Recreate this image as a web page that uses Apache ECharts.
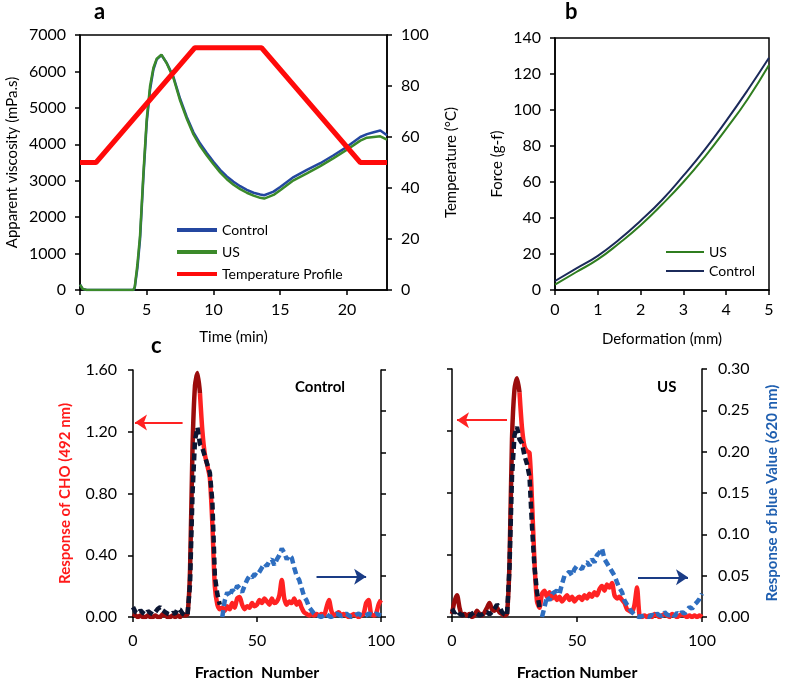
<!DOCTYPE html>
<html><head><meta charset="utf-8">
<script src="https://cdn.jsdelivr.net/npm/echarts@6/dist/echarts.min.js"></script>
<style>html,body{margin:0;padding:0;background:#fff}#c{width:787px;height:684px}</style>
</head><body><div id="c"></div>
<script>
// ---------- Panel a: RVA pasting profile ----------
const timeA = [0,0.2,0.5,1,2,3,4,4.1,4.3,4.5,4.75,5,5.25,5.5,5.75,6.1,6.5,7,7.5,8,8.5,9,9.5,10,10.5,11,11.5,12,12.5,13,13.5,13.8,14.5,15,16,17,18,19,20,21,21.5,22,22.5,23];
const viscControl = [150,30,0,0,0,0,0,60,600,1400,3100,4600,5500,6050,6330,6450,6230,5850,5250,4750,4330,4020,3760,3520,3300,3120,2970,2850,2750,2670,2620,2600,2700,2830,3100,3300,3480,3700,3930,4200,4280,4330,4380,4250];
const viscUS = [150,30,0,0,0,0,0,80,700,1500,3200,4700,5600,6100,6350,6460,6220,5820,5200,4700,4270,3950,3690,3450,3230,3040,2890,2770,2670,2590,2530,2510,2610,2740,3010,3200,3400,3620,3850,4100,4180,4200,4220,4130];
const tempTime = [0,1.2,8.6,13.6,21.0,23];
const tempValues = [50,50,95,95,50,50];

// ---------- Panel b: force vs deformation ----------
const deformation = [0,0.5,1,1.5,2,2.5,3,3.5,4,4.5,5];
const forceUS = [3,10,17,26,36,47.5,60,74,89.5,106,125];
const forceControl = [5,12,19,28,38.5,50,63.5,78,94,111,129];

// ---------- Panel c: fraction profiles (fractions 0..100) ----------
const choControl = [0.02,0.01,0,0.01,0,0,0.01,0,0,0.01,0,0,0.02,0.01,0,0,0.01,0,0.01,0,0.02,0.01,0.02,
  0.3,1.1,1.5,1.58,1.45,1.2,1.05,0.98,0.9,0.6,0.2,0.08,0.05,
  0.06,0.04,0.07,0.05,0.09,0.06,0.12,0.13,0.08,0.05,0.07,0.06,0.09,0.07,0.08,0.11,0.09,0.12,0.1,0.08,0.12,0.09,0.1,0.14,0.24,0.12,0.08,0.1,0.09,0.12,0.08,0.1,0.06,0.03,0.02,
  0.01,0.02,0.01,0.02,0.01,0.02,0.01,0.06,0.11,0.04,0.01,0.02,0.03,0.01,0.02,0.01,0,0.01,0.02,0.01,0,0.01,0.02,0.09,0.11,0.02,0.01,0.02,0.08,0.11];
const blueControl = [0.012,0.006,0.004,0.008,0.005,0.003,0.007,0.005,0.003,0.006,0.01,0.012,0.008,0.006,0.004,0.003,0.005,0.004,0.01,0.009,0.004,0.002,0.003,
  0.04,0.15,0.215,0.23,0.21,0.205,0.195,0.185,0.175,0.14,0.05,0.028,0.015,
  0,0.02,0.03,0.025,0.033,0.03,0.038,0.035,0.03,0.038,0.045,0.05,0.048,0.052,0.05,0.055,0.06,0.065,0.062,0.068,0.07,0.063,0.07,0.075,0.083,0.078,0.07,0.075,0.072,0.06,0.05,0.045,0.035,0.025,0.02,
  0.012,0.008,0.004,0.002,0.001,0,0.002,0.004,0.001,0,0.002,0.004,0.003,0.001,0.002,0.004,0.002,0,0.001,0.003,0.004,0.002,0.001,0.002,0.004,0.003,0.002,0.004,0.003,0.002];
const choUS = [0.02,0.1,0.14,0.06,0.01,0.02,0.01,0.02,0,0.01,0.04,0.02,0.01,0.03,0.06,0.09,0.05,0.04,0.06,0.03,0.02,0.01,0.02,
  0.35,1.15,1.47,1.54,1.45,1.22,1.1,1.07,1.06,0.75,0.35,0.1,0.06,
  0.15,0.17,0.13,0.16,0.12,0.14,0.11,0.13,0.1,0.12,0.14,0.11,0.13,0.1,0.12,0.13,0.11,0.14,0.12,0.15,0.13,0.16,0.14,0.18,0.2,0.17,0.21,0.19,0.22,0.14,0.12,0.13,0.11,0.09,0.05,
  0.04,0.03,0.08,0.19,0.01,
  0,0.01,0,0.01,0,0.02,0.01,0,0.01,0.02,0.01,0,0.02,0.01,0,0.01,0.02,0.01,0,0.01,0,0.01,0,0.01,0];
const blueUS = [0.01,0.005,0.008,0.004,0.002,0.003,0.002,0.001,0.004,0.006,0.004,0.002,0.003,0.005,0.006,0.003,0.006,0.01,0.015,0.012,0.006,0.003,0.002,
  0.06,0.17,0.22,0.23,0.215,0.21,0.195,0.185,0.17,0.11,0.06,0.03,0.012,
  0,0.012,0.025,0.02,0.028,0.03,0.032,0.028,0.04,0.05,0.052,0.055,0.05,0.058,0.062,0.06,0.058,0.065,0.066,0.062,0.07,0.066,0.075,0.078,0.083,0.07,0.065,0.06,0.055,0.05,0.042,0.035,0.03,0.02,0.015,
  0.01,0.006,0.003,0.001,0,0.001,0.002,0.001,0,0.003,0.001,0.004,0.002,0.001,0.006,0.003,0.002,0.004,0.001,0.005,0.003,0.006,0.004,0.008,0.012,0.01,0.015,0.018,0.022,0.028];
// colour change points (fraction number) used by the original plot
const choDarkUntil = 27;
const blueDarkUntil = 35;
// arrow annotations [from, to] in data units
const arrowCHO1 = [[20,1.26],[0.8,1.26]];
const arrowBlue1 = [[74,0.049],[94,0.049]];
const arrowCHO2 = [[22,1.27],[2,1.27]];
const arrowBlue2 = [[74.4,0.048],[94.4,0.048]];

const FONT = 'Lato';
const zip = (xs, ys) => xs.map((x,i)=>[x, ys[i]]);
const idx = arr => arr.map((v,i)=>[i, v]);
const part = (arr, from, to) => idx(arr).slice(from, to + 1);

function axisBase(extra){
  return Object.assign({
    axisLine:{show:true, onZero:false, lineStyle:{color:'#000', width:1.5}},
    axisTick:{show:true, inside:false, length:5, lineStyle:{color:'#000', width:1.5}},
    axisLabel:{color:'#000', fontSize:16, fontFamily:FONT, margin:14},
    splitLine:{show:false},
    nameTextStyle:{color:'#000', fontSize:15, fontFamily:FONT},
  }, extra);
}
const arrowLine = (pts, color) => ({
  silent:true, symbol:['none','arrow'], symbolSize:12, label:{show:false},
  lineStyle:{color:color, width:2, type:'solid'},
  itemStyle:{color:color},
  data:[[{coord:pts[0]},{coord:pts[1]}]]
});

const RED = '#ff2222', DARKRED = '#9b0c0c', NAVY = '#0c1632', BLUE = '#2e6ec0';
function cSeries(xi, yl, yr, cho, blue, arrC, arrB){
  return [
    {type:'line', name:'cho-a'+xi, xAxisIndex:xi, yAxisIndex:yl, data:part(cho, choDarkUntil, 100), symbol:'none', smooth:0.25, color:RED, lineStyle:{color:RED, width:4.5}, markLine:arrowLine(arrC, RED), z:2},
    {type:'line', name:'cho-b'+xi, xAxisIndex:xi, yAxisIndex:yl, data:part(cho, 0, choDarkUntil), symbol:'none', smooth:0.25, color:DARKRED, lineStyle:{color:DARKRED, width:4.5}, z:2},
    {type:'line', name:'blue-a'+xi, xAxisIndex:xi, yAxisIndex:yr, data:part(blue, 0, blueDarkUntil), symbol:'none', color:NAVY, lineStyle:{color:NAVY, width:4.5, type:[7,4]}, z:3},
    {type:'line', name:'blue-b'+xi, xAxisIndex:xi, yAxisIndex:yr, data:part(blue, blueDarkUntil+1, 100), symbol:'none', color:BLUE, lineStyle:{color:BLUE, width:4.5, type:[7,4]}, markLine:arrowLine(arrB, '#1a3c86'), z:3}
  ];
}

const chart = echarts.init(document.getElementById('c'), null, {renderer:'canvas'});
chart.setOption({
  animation:false,
  backgroundColor:'#fff',
  grid:[
    {left:80, top:35, width:307, height:255, show:true, borderColor:'#000', borderWidth:1.5},
    {left:555, top:38, width:214, height:252, show:true, borderColor:'#000', borderWidth:1.5},
    {left:133, top:370, width:248, height:247},
    {left:452, top:369, width:250, height:248}
  ],
  xAxis:[
    axisBase({gridIndex:0, type:'value', min:0, max:23, interval:5, name:'Time (min)', nameLocation:'middle', nameGap:40,
      axisLabel:{color:'#000', fontSize:16, fontFamily:FONT, margin:12, showMaxLabel:false}}),
    axisBase({gridIndex:1, type:'value', min:0, max:5, interval:1, name:'Deformation (mm)', nameLocation:'middle', nameGap:42,
      axisLabel:{color:'#000', fontSize:16, fontFamily:FONT, margin:12}}),
    axisBase({gridIndex:2, type:'value', min:0, max:100, interval:50, name:'Fraction  Number', nameLocation:'middle', nameGap:48,
      axisLabel:{color:'#000', fontSize:16, fontFamily:FONT, margin:16},
      nameTextStyle:{color:'#000', fontSize:16, fontFamily:FONT, fontWeight:'bold'}}),
    axisBase({gridIndex:3, type:'value', min:0, max:100, interval:50, name:'Fraction Number', nameLocation:'middle', nameGap:48,
      axisLabel:{color:'#000', fontSize:16, fontFamily:FONT, margin:16},
      nameTextStyle:{color:'#000', fontSize:16, fontFamily:FONT, fontWeight:'bold'}})
  ],
  yAxis:[
    axisBase({gridIndex:0, type:'value', min:0, max:7000, interval:1000, position:'left', name:'Apparent viscosity (mPa.s)', nameLocation:'middle', nameGap:60,
      axisLabel:{color:'#000', fontSize:16, fontFamily:FONT, margin:14, formatter:v=>String(v)}}),
    axisBase({gridIndex:0, type:'value', min:0, max:100, interval:20, position:'right', name:'Temperature (°C)', nameLocation:'middle', nameGap:57}),
    axisBase({gridIndex:1, type:'value', min:0, max:140, interval:20, position:'left', name:'Force (g-f)', nameLocation:'middle', nameGap:50}),
    axisBase({gridIndex:2, type:'value', min:0, max:1.6, interval:0.4, position:'left', name:'Response of CHO (492 nm)', nameLocation:'middle', nameGap:60,
      axisLabel:{color:'#000', fontSize:16, fontFamily:FONT, margin:16, formatter:v=>v.toFixed(2)},
      nameTextStyle:{color:'#ff1a1a', fontSize:15, fontFamily:FONT, fontWeight:'bold'}}),
    axisBase({gridIndex:2, type:'value', min:0, max:0.3, interval:0.05, position:'right', axisLabel:{show:false}}),
    axisBase({gridIndex:3, type:'value', min:0, max:1.6, interval:0.4, position:'left', axisLabel:{show:false}}),
    axisBase({gridIndex:3, type:'value', min:0, max:0.3, interval:0.05, position:'right', name:'Response of blue Value (620 nm)', nameLocation:'middle', nameGap:63,
      axisLabel:{color:'#000', fontSize:16, fontFamily:FONT, margin:16, formatter:v=>v.toFixed(2)},
      nameTextStyle:{color:'#1f5fb0', fontSize:15, fontFamily:FONT, fontWeight:'bold'}})
  ],
  legend:[
    {left:172, top:218, orient:'vertical', icon:'rect', itemWidth:40, itemHeight:4, itemGap:8, selectedMode:false,
      textStyle:{color:'#000', fontSize:14, fontFamily:FONT},
      data:[{name:'Control', itemStyle:{color:'#2447a0'}},{name:'US', itemStyle:{color:'#3b8a2a'}},{name:'Temperature Profile', itemStyle:{color:'#ff0a0a'}}]},
    {left:661, top:240, orient:'vertical', icon:'rect', itemWidth:38, itemHeight:2, itemGap:5, selectedMode:false,
      textStyle:{color:'#000', fontSize:14, fontFamily:FONT},
      data:[{name:'US', itemStyle:{color:'#2f7d1f'}},{name:'Control', itemStyle:{color:'#1b2a5a'}}]}
  ],
  series:[
    {type:'line', name:'Control', xAxisIndex:0, yAxisIndex:0, data:zip(timeA, viscControl), symbol:'none', color:'#2447a0', lineStyle:{color:'#2447a0', width:2.5}},
    {type:'line', name:'US', xAxisIndex:0, yAxisIndex:0, data:zip(timeA, viscUS), symbol:'none', color:'#3b8a2a', lineStyle:{color:'#3b8a2a', width:2.5}},
    {type:'line', name:'Temperature Profile', xAxisIndex:0, yAxisIndex:1, data:zip(tempTime, tempValues), symbol:'none', color:'#ff0a0a', lineStyle:{color:'#ff0a0a', width:5}},
    {type:'line', name:'US', xAxisIndex:1, yAxisIndex:2, data:zip(deformation, forceUS), symbol:'none', smooth:true, color:'#2f7d1f', lineStyle:{color:'#2f7d1f', width:2}},
    {type:'line', name:'Control', xAxisIndex:1, yAxisIndex:2, data:zip(deformation, forceControl), symbol:'none', smooth:true, color:'#1b2a5a', lineStyle:{color:'#1b2a5a', width:2}},
    ...cSeries(2, 3, 4, choControl, blueControl, arrowCHO1, arrowBlue1),
    ...cSeries(3, 5, 6, choUS, blueUS, arrowCHO2, arrowBlue2)
  ],
  graphic:[
    {type:'text', left:94, top:1, style:{text:'a', font:'bold 22px Lato', fill:'#000'}},
    {type:'text', left:565, top:1, style:{text:'b', font:'bold 22px Lato', fill:'#000'}},
    {type:'text', left:151, top:335, style:{text:'c', font:'bold 22px Lato', fill:'#000'}},
    {type:'text', left:295, top:380, style:{text:'Control', font:'bold 15px Lato', fill:'#000'}},
    {type:'text', left:657, top:380, style:{text:'US', font:'bold 15px Lato', fill:'#000'}}
  ]
});
</script></body></html>
